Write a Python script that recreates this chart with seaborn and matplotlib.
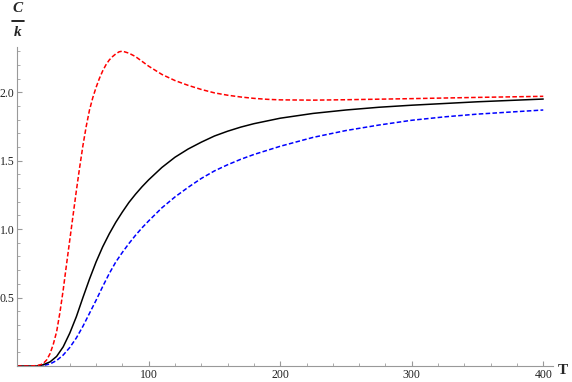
import numpy as np
import matplotlib.pyplot as plt
import pandas as pd
import seaborn as sns
from matplotlib.lines import Line2D
from matplotlib.ticker import MultipleLocator

# values
t_red = [0, 10, 15, 18, 20, 22.5, 25, 27.5, 30, 32.5, 35, 37.5, 40, 42.5, 45, 47.5,
         50, 52.5, 55, 57.5, 60, 62.5, 65, 67.5, 70, 72.5, 75, 77.5, 80, 85, 90, 95, 100, 105, 110,
         120, 130, 140, 150, 160, 170, 180, 190, 200, 225, 250, 300, 350, 400]
c_red = [0, 0, 0.003, 0.01, 0.02, 0.045, 0.09, 0.16, 0.25, 0.39, 0.555, 0.74, 0.92, 1.10, 1.28, 1.45,
         1.61, 1.75, 1.87, 1.96, 2.035, 2.10, 2.155, 2.20, 2.235, 2.26, 2.28, 2.295, 2.30, 2.285, 2.26, 2.225, 2.19, 2.16, 2.13,
         2.085, 2.05, 2.02, 1.995, 1.978, 1.965, 1.955, 1.948, 1.944, 1.942, 1.945, 1.953, 1.962, 1.97]

t_black = [0, 15, 20, 25, 30, 35, 40, 45, 50, 55, 60, 65, 70, 75, 80, 85, 90, 95, 100,
           110, 120, 130, 140, 150, 160, 170, 180, 190, 200, 225, 250, 275, 300, 350, 400]
c_black = [0, 0, 0.01, 0.03, 0.07, 0.14, 0.24, 0.36, 0.50, 0.635, 0.76, 0.87, 0.965, 1.05, 1.125, 1.195, 1.255, 1.31, 1.36,
           1.45, 1.525, 1.585, 1.635, 1.68, 1.715, 1.745, 1.77, 1.79, 1.81, 1.845, 1.87, 1.89, 1.905, 1.93, 1.95]

t_blue = [0, 15, 20, 25, 30, 35, 40, 45, 50, 55, 60, 65, 70, 75, 80, 85, 90, 95, 100,
          110, 120, 130, 140, 150, 160, 170, 180, 190, 200, 225, 250, 275, 300, 325, 350, 375, 400]
c_blue = [0, 0, 0.004, 0.015, 0.04, 0.08, 0.135, 0.205, 0.29, 0.385, 0.48, 0.58, 0.675, 0.76, 0.83, 0.895, 0.955, 1.01, 1.06,
          1.155, 1.235, 1.305, 1.37, 1.425, 1.47, 1.51, 1.545, 1.575, 1.605, 1.67, 1.72, 1.76, 1.795, 1.82, 1.84, 1.855, 1.87]

df = pd.concat([
    pd.DataFrame({'T': t_blue, 'C': c_blue, 'curve': 'blue'}),
    pd.DataFrame({'T': t_black, 'C': c_black, 'curve': 'black'}),
    pd.DataFrame({'T': t_red, 'C': c_red, 'curve': 'red'}),
])

sns.set_style('ticks')
plt.rcParams['font.family'] = ['Liberation Serif', 'DejaVu Serif']

fig = plt.figure(figsize=(5.72, 3.82), dpi=100)
ax = fig.add_axes([0.030, 0.0419, 0.937, 0.835])

sns.lineplot(data=df, x='T', y='C', hue='curve', style='curve', sort=False,
             palette={'red': (1, 0, 0), 'black': 'black', 'blue': (0, 0, 1)},
             dashes={'red': (3, 1.5), 'black': '', 'blue': (3, 1.5)},
             linewidth=1.1, legend=False, ax=ax)

ax.set_xlim(0, 407.5)
ax.set_ylim(0, 2.33)
ax.set_xlabel('')
ax.set_ylabel('')

for s in ['top', 'right']:
    ax.spines[s].set_visible(False)
for s in ['left', 'bottom']:
    ax.spines[s].set_color('#999999')
    ax.spines[s].set_linewidth(0.8)

ax.xaxis.set_minor_locator(MultipleLocator(20))
ax.yaxis.set_minor_locator(MultipleLocator(0.1))
ax.set_xticks([100, 200, 300, 400])
ax.set_xticklabels(['100', '200', '300', '400'])
ax.set_yticks([0.5, 1.0, 1.5, 2.0])
ax.set_yticklabels(['0.5', '1.0', '1.5', '2.0'])
ax.tick_params(which='major', direction='in', length=3.5, width=0.8, color='#999999',
               labelsize=8.5, labelcolor='#222222', pad=2)
ax.tick_params(which='minor', direction='in', length=2, width=0.7, color='#aaaaaa')

# axis labels, Mathematica style
fig.text(563 / 572, 1 - 370 / 382, 'T', fontsize=11, fontweight='bold', ha='center', va='center')
fig.text(18 / 572, 1 - 9 / 382, 'C', fontsize=11, fontweight='bold', fontstyle='italic', ha='center', va='center')
fig.text(18 / 572, 1 - 33 / 382, 'k', fontsize=11, fontweight='bold', fontstyle='italic', ha='center', va='center')
fig.add_artist(Line2D([12 / 572, 24 / 572], [1 - 20.7 / 382, 1 - 20.7 / 382], color='black', linewidth=1.2))

fig.savefig('out.png', dpi=100)
